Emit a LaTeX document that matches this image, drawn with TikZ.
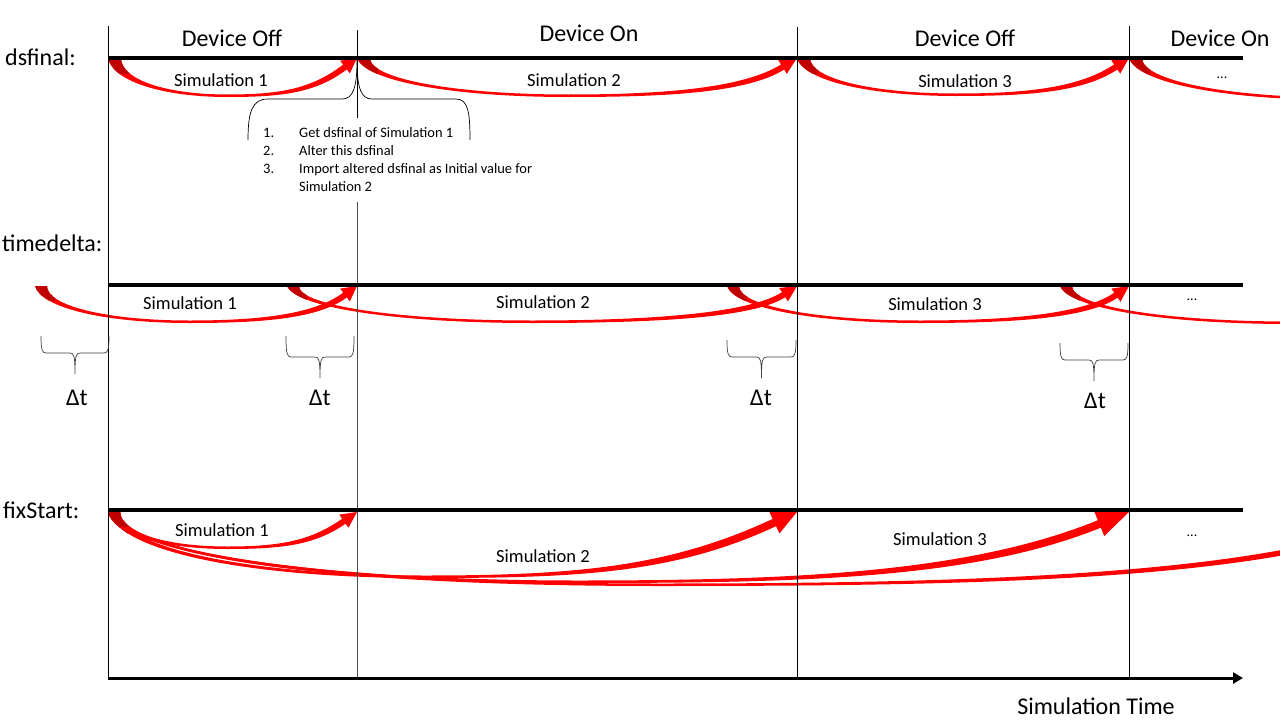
\documentclass[tikz,border=0pt]{standalone}
\usepackage{fontspec}
\setmainfont{Carlito}
\usetikzlibrary{calc,arrows.meta}
\definecolor{arr}{RGB}{255,0,0}
\definecolor{arrdark}{RGB}{192,0,0}
\def\xmfrac{0.48}
\def\risefrac{0.2}
% #1 x1 tail, #2 x2 tip, #3 baseline y, #4 depth, #5 tail width, #6 head angle, #7 head length, #8 head half width, #9 band half width at head
\newcommand\pptarr[9]{%
 \pgfmathsetmacro\aL{#2-#1}%
 \pgfmathsetmacro\axm{#1+\xmfrac*\aL}%
 \pgfmathsetmacro\aPx{#2-#7*cos(#6)}%
 \pgfmathsetmacro\aPy{#3+#7*sin(#6)}%
 \pgfmathsetmacro\anx{sin(#6)}%
 \pgfmathsetmacro\any{cos(#6)}%
 \pgfmathsetmacro\aOx{\aPx+#9*\anx}%
 \pgfmathsetmacro\aOy{\aPy+#9*\any}%
 \pgfmathsetmacro\aIx{\aPx-#9*\anx}%
 \pgfmathsetmacro\aIy{\aPy-#9*\any}%
 \pgfmathsetmacro\aWOx{\aPx+#8*\anx}%
 \pgfmathsetmacro\aWOy{\aPy+#8*\any}%
 \pgfmathsetmacro\aWIx{\aPx-#8*\anx}%
 \pgfmathsetmacro\aWIy{\aPy-#8*\any}%
 \pgfmathsetmacro\ac{min(\risefrac*\aL,(#3+#4-4-\aOy)/sin(#6))}%
 \pgfmathsetmacro\aCOx{\aOx-\ac*cos(#6)}%
 \pgfmathsetmacro\aCOy{\aOy+\ac*sin(#6)}%
 \pgfmathsetmacro\aCIx{\aIx-\ac*cos(#6)}%
 \pgfmathsetmacro\aCIy{\aIy+\ac*sin(#6)}%
 \def\arrpath{(#1,#3) .. controls (#1+0.02*\aL,#3+0.62*#4) and (\axm-0.25*\aL,#3+#4) .. (\axm,#3+#4) .. controls (\axm+0.22*\aL,#3+#4) and (\aCOx,\aCOy) .. (\aOx,\aOy) -- (\aWOx,\aWOy) -- (#2,#3) -- (\aWIx,\aWIy) -- (\aIx,\aIy) .. controls (\aCIx,\aCIy) and (\axm+0.22*\aL,#3+#4-2.5) .. (\axm,#3+#4-2.5) .. controls (\axm-0.25*\aL,#3+#4-2.5) and (#1+#5,#3+0.55*#4) .. (#1+#5,#3) -- cycle}%
 \fill[arr] \arrpath;
 \begin{scope}\clip (#1-3,#3-3) rectangle (#1+#5+8,#3+0.4*#4); \fill[arrdark] \arrpath; \end{scope}%
}
\tikzset{
 hline/.style={line width=3.2pt},
 vline/.style={line width=0.8pt},
 big/.style={font=\fontsize{24}{28}\selectfont, inner sep=0pt},
 sim/.style={font=\fontsize{18.5}{22}\selectfont, inner sep=0pt, anchor=base},
 dots/.style={font=\fontsize{14}{16}\selectfont, inner sep=0pt, anchor=base},
 lst/.style={font=\fontsize{14.4}{16}\selectfont, inner sep=0pt, anchor=base west},
 brace/.style={line width=0.7pt, black!75},
}
\begin{document}
\begin{tikzpicture}[x=1pt,y=-1pt]
\useasboundingbox (0,0) rectangle (1280,720);
\clip (0,0) rectangle (1280,720);
\fill[white] (0,0) rectangle (1280,720);

% ---- arrows: dsfinal
\pptarr{108}{357}{58}{39}{13}{37}{15}{8}{3}
\pptarr{357}{797}{58}{39}{13}{32}{17}{8}{3}
\pptarr{797}{1129}{58}{38}{13}{34}{16}{8}{3}
\pptarr{1129}{1569}{58}{42}{13}{32}{17}{8}{3}
% ---- arrows: timedelta
\pptarr{35}{357}{286}{37}{12}{37}{15}{8}{3}
\pptarr{287}{797}{286}{37}{12}{33}{16}{8}{3}
\pptarr{727}{1129}{286}{37}{12}{35}{16}{8}{3}
\pptarr{1060}{1540}{286}{38}{12}{33}{16}{8}{3}
% ---- arrows: fixStart
\def\xmfrac{0.42}
\pptarr{108}{1420}{512}{74}{12}{22}{30}{13}{3}
\def\xmfrac{0.46}
\pptarr{108}{1129}{512}{71}{12}{22}{32}{13}{4}
\pptarr{108}{797}{512}{66}{12}{25}{25}{12}{4}
\def\xmfrac{0.48}
\pptarr{108}{357}{512}{37}{12}{35}{16}{8}{3}

% ---- vertical lines
\coordinate (v0t) at (108,26);  \coordinate (v0b) at (108,678);
\coordinate (v1t) at (357,30);  \coordinate (v1m) at (357,118);
\coordinate (v1n) at (357,202); \coordinate (v1b) at (357,678);
\coordinate (v2t) at (797,27);  \coordinate (v2b) at (797,678);
\coordinate (v3t) at (1129,26); \coordinate (v3b) at (1129,678);
\draw[vline] (v0t) -- (v0b);
\draw[vline] (v1t) -- (v1m);
\draw[vline, black!70] (v1n) -- (v1b);
\draw[vline] (v2t) -- (v2b);
\draw[vline] (v3t) -- (v3b);

% ---- horizontal lines
\coordinate (h1a) at (108,58);  \coordinate (h1b) at (1243,58);
\coordinate (h2a) at (108,285); \coordinate (h2b) at (1243,285);
\coordinate (h3a) at (108,510); \coordinate (h3b) at (1243,510);
\draw[hline] (h1a) -- (h1b);
\draw[hline] (h2a) -- (h2b);
\draw[hline] (h3a) -- (h3b);

% ---- time axis
\coordinate (ax0) at (108,678); \coordinate (ax1) at (1243,678);
\draw[line width=3pt, -{Triangle[length=10pt,width=11pt]}] (ax0) -- (ax1);
\node[big, anchor=base] (simtime) at (1096,714) {Simulation Time};

% ---- row labels
\node[big, anchor=base west] (ldsf) at (5,65) {dsfinal:};
\node[big, anchor=base west] (ltd) at (2,251) {timedelta:};
\node[big, anchor=base west] (lfs) at (3,518) {fixStart:};

% ---- device states
\node[big, anchor=base] (s1) at (232,46) {Device Off};
\node[big, anchor=base] (s2) at (589,41) {Device On};
\node[big, anchor=base] (s3) at (965,46) {Device Off};
\node[big, anchor=base] (s4) at (1220,46) {Device On};

% ---- simulation labels
\node[sim] (d1) at (221,86) {Simulation 1};
\node[sim] (d2) at (574,86) {Simulation 2};
\node[sim] (d3) at (965,87) {Simulation 3};
\node[dots] (d4) at (1222,78) {...};
\node[sim] (t1) at (190,309) {Simulation 1};
\node[sim] (t2) at (543,308) {Simulation 2};
\node[sim] (t3) at (935,310) {Simulation 3};
\node[dots] (t4) at (1192,300) {...};
\node[sim] (f1) at (222,536) {Simulation 1};
\node[sim] (f2) at (543,562) {Simulation 2};
\node[sim] (f3) at (940,545) {Simulation 3};
\node[dots] (f4) at (1192,536) {...};

% ---- annotation brace
\draw[brace, black] (248,140) .. controls (248,112) and (252,99) .. (268,99) -- (342,99)
  .. controls (353,99) and (357,88) .. (357,60)
  .. controls (357,88) and (361,99) .. (372,99) -- (456,99)
  .. controls (468,99) and (470,112) .. (470,140);
\node[lst] (n1) at (263,137) {1.};
\node[lst] (n2) at (263,155) {2.};
\node[lst] (n3) at (263,173) {3.};
\node[lst] (i1) at (299,137) {Get dsfinal of Simulation 1};
\node[lst] (i2) at (299,155) {Alter this dsfinal};
\node[lst] (i3) at (299,173) {Import altered dsfinal as Initial value for};
\node[lst] (i4) at (299,191) {Simulation 2};

% ---- delta t braces
\newcommand\dtbrace[5]{% left, right, top, horizontal, tip bottom
 \pgfmathsetmacro\bm{(#1+#2)/2}%
 \draw[brace] (#1,#3) .. controls (#1,#4-4) and (#1+1,#4) .. (#1+5,#4) -- (\bm-5,#4)
   .. controls (\bm-1,#4) and (\bm,#4+3) .. (\bm,#5)
   .. controls (\bm,#4+3) and (\bm+1,#4) .. (\bm+5,#4) -- (#2-5,#4)
   .. controls (#2-1,#4) and (#2,#4-4) .. (#2,#3);}
\dtbrace{41}{109}{336}{353}{374}
\dtbrace{286}{354}{336}{357}{378}
\dtbrace{727}{796}{340}{357}{378}
\dtbrace{1060}{1128}{343}{360}{381}
\node[big, anchor=base] (dt1) at (77,405) {Δt};
\node[big, anchor=base] (dt2) at (320,405) {Δt};
\node[big, anchor=base] (dt3) at (761,405) {Δt};
\node[big, anchor=base] (dt4) at (1095,408) {Δt};
\end{tikzpicture}
\end{document}
